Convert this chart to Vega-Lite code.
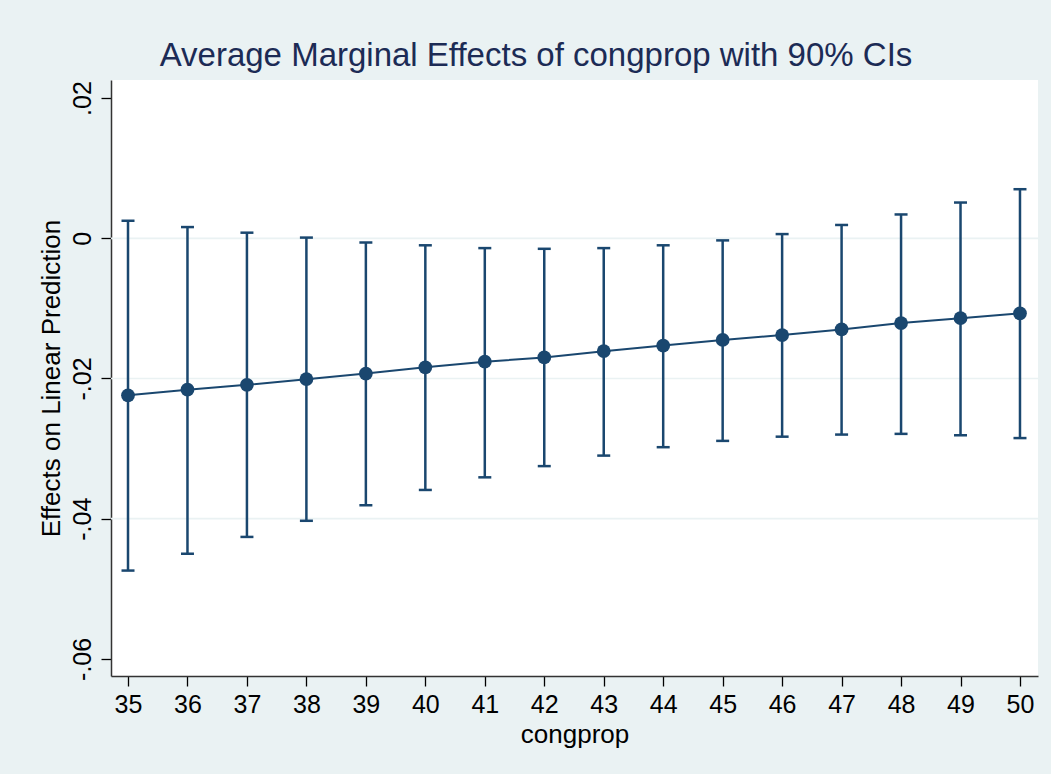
{
  "$schema": "https://vega.github.io/schema/vega-lite/v6.json",
  "width": 927,
  "height": 596,
  "autosize": {"type": "none"},
  "padding": {"left": 111, "top": 80, "right": 13, "bottom": 98},
  "background": "#EAF2F3",
  "config": {
    "view": {"stroke": null, "fill": "white"},
    "font": "Liberation Sans"
  },
  "title": {
    "text": "Average Marginal Effects of congprop with 90% CIs",
    "fontSize": 33,
    "fontWeight": "normal",
    "color": "#1c2b55",
    "anchor": "middle",
    "frame": "group",
    "dx": -38.5,
    "baseline": "alphabetic",
    "offset": -19
  },
  "datasets": {
    "me": [
      {"congprop": 35, "est": -0.0224, "lo": -0.0474, "hi": 0.0025},
      {"congprop": 36, "est": -0.0216, "lo": -0.0450, "hi": 0.0016},
      {"congprop": 37, "est": -0.0209, "lo": -0.0426, "hi": 0.0008},
      {"congprop": 38, "est": -0.0201, "lo": -0.0403, "hi": 0.0001},
      {"congprop": 39, "est": -0.0193, "lo": -0.0381, "hi": -0.0006},
      {"congprop": 40, "est": -0.0184, "lo": -0.0359, "hi": -0.0010},
      {"congprop": 41, "est": -0.0176, "lo": -0.0341, "hi": -0.0014},
      {"congprop": 42, "est": -0.0170, "lo": -0.0325, "hi": -0.0015},
      {"congprop": 43, "est": -0.0161, "lo": -0.0310, "hi": -0.0014},
      {"congprop": 44, "est": -0.0153, "lo": -0.0298, "hi": -0.0010},
      {"congprop": 45, "est": -0.0145, "lo": -0.0289, "hi": -0.0003},
      {"congprop": 46, "est": -0.0138, "lo": -0.0283, "hi": 0.0006},
      {"congprop": 47, "est": -0.0130, "lo": -0.0280, "hi": 0.0019},
      {"congprop": 48, "est": -0.0121, "lo": -0.0279, "hi": 0.0034},
      {"congprop": 49, "est": -0.0114, "lo": -0.0281, "hi": 0.0051},
      {"congprop": 50, "est": -0.0107, "lo": -0.0285, "hi": 0.0070}
    ],
    "grid": [{"g": -0.04}, {"g": -0.02}, {"g": 0}]
  },
  "layer": [
    {
      "data": {"name": "grid"},
      "mark": {"type": "rule", "color": "#EAF2F3", "strokeWidth": 1.7},
      "encoding": {
        "y": {
          "field": "g",
          "type": "quantitative",
          "title": "Effects on Linear Prediction",
          "scale": {"domain": [-0.06244, 0.02258], "nice": false, "zero": false},
          "axis": {
            "values": [-0.06, -0.04, -0.02, 0, 0.02],
            "labelExpr": "datum.value == 0 ? '0' : (datum.value < 0 ? '-' : '') + '.' + format(round(abs(datum.value) * 100), '02d')",
            "labelAngle": -90,
            "labelAlign": "center",
            "labelBaseline": "alphabetic",
            "labelPadding": 11,
            "labelFontSize": 25,
            "labelColor": "black",
            "labelFlush": false,
            "labelOverlap": false,
            "tickSize": 10,
            "tickColor": "black",
            "tickWidth": 1.3,
            "domainColor": "#333333",
            "domainWidth": 1.5,
            "grid": false,
            "titleFontSize": 26,
            "titleFontWeight": "normal",
            "titleColor": "black",
            "titleAngle": -90,
            "titleAlign": "center",
            "titleBaseline": "alphabetic",
            "titleX": -52,
            "titleY": 298
          }
        }
      }
    },
    {
      "data": {"name": "me"},
      "layer": [
        {
          "mark": {"type": "rule", "color": "#1A476F", "strokeWidth": 2.5},
          "encoding": {
            "x": {"field": "congprop", "type": "quantitative"},
            "y": {"field": "lo", "type": "quantitative", "title": "Effects on Linear Prediction"},
            "y2": {"field": "hi"}
          }
        },
        {
          "mark": {"type": "tick", "orient": "horizontal", "color": "#1A476F", "size": 13, "thickness": 2.5, "opacity": 1},
          "encoding": {
            "x": {"field": "congprop", "type": "quantitative"},
            "y": {"field": "hi", "type": "quantitative", "title": "Effects on Linear Prediction"}
          }
        },
        {
          "mark": {"type": "tick", "orient": "horizontal", "color": "#1A476F", "size": 13, "thickness": 2.5, "opacity": 1},
          "encoding": {
            "x": {"field": "congprop", "type": "quantitative"},
            "y": {"field": "lo", "type": "quantitative", "title": "Effects on Linear Prediction"}
          }
        },
        {
          "mark": {"type": "line", "color": "#1A476F", "strokeWidth": 2},
          "encoding": {
            "x": {"field": "congprop", "type": "quantitative"},
            "y": {"field": "est", "type": "quantitative", "title": "Effects on Linear Prediction"}
          }
        },
        {
          "mark": {"type": "circle", "color": "#1A476F", "size": 190, "opacity": 1},
          "encoding": {
            "x": {
              "field": "congprop",
              "type": "quantitative",
              "title": "congprop",
              "scale": {"domain": [34.714, 50.303], "nice": false, "zero": false},
              "axis": {
                "values": [35, 36, 37, 38, 39, 40, 41, 42, 43, 44, 45, 46, 47, 48, 49, 50],
                "format": "d",
                "labelFontSize": 25,
                "labelColor": "black",
                "labelPadding": 6,
                "labelFlush": false,
                "labelOverlap": false,
                "tickSize": 10,
                "tickColor": "black",
                "tickWidth": 1.3,
                "domainColor": "#333333",
                "domainWidth": 1.5,
                "grid": false,
                "titleFontSize": 26,
                "titleFontWeight": "normal",
                "titleColor": "black",
                "titleBaseline": "alphabetic",
                "titleY": 66
              }
            },
            "y": {"field": "est", "type": "quantitative", "title": "Effects on Linear Prediction"}
          }
        }
      ]
    }
  ]
}
